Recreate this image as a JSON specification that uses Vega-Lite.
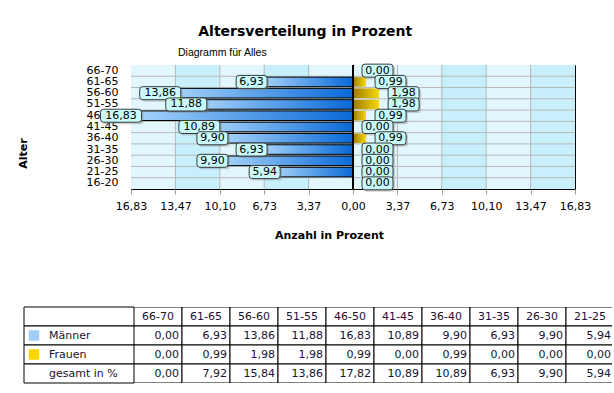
{
  "$schema": "https://vega.github.io/schema/vega-lite/v6.json",
  "padding": {"left": 16, "top": 25, "right": 3, "bottom": 4},
  "background": "white",
  "title": {"text": "Altersverteilung in Prozent", "font": "DejaVu Sans", "fontSize": 14, "fontWeight": "bold", "color": "black", "anchor": "middle", "dx": -9, "offset": 8},
  "datasets": {
    "ages": [
      {"age": "66-70", "maenner": 0.00, "frauen": 0.00, "gesamt": 0.00},
      {"age": "61-65", "maenner": 6.93, "frauen": 0.99, "gesamt": 7.92},
      {"age": "56-60", "maenner": 13.86, "frauen": 1.98, "gesamt": 15.84},
      {"age": "51-55", "maenner": 11.88, "frauen": 1.98, "gesamt": 13.86},
      {"age": "46-50", "maenner": 16.83, "frauen": 0.99, "gesamt": 17.82},
      {"age": "41-45", "maenner": 10.89, "frauen": 0.00, "gesamt": 10.89},
      {"age": "36-40", "maenner": 9.90, "frauen": 0.99, "gesamt": 10.89},
      {"age": "31-35", "maenner": 6.93, "frauen": 0.00, "gesamt": 6.93},
      {"age": "26-30", "maenner": 9.90, "frauen": 0.00, "gesamt": 9.90},
      {"age": "21-25", "maenner": 5.94, "frauen": 0.00, "gesamt": 5.94},
      {"age": "16-20", "maenner": 0.00, "frauen": 0.00, "gesamt": 0.00}
    ],
    "bands": [
      {"x0": -16.8317, "x1": -13.4653, "shade": "hell"},
      {"x0": -13.4653, "x1": -10.099, "shade": "dunkel"},
      {"x0": -10.099, "x1": -6.7327, "shade": "hell"},
      {"x0": -6.7327, "x1": -3.3663, "shade": "dunkel"},
      {"x0": -3.3663, "x1": 0, "shade": "hell"},
      {"x0": 0, "x1": 3.3663, "shade": "hell"},
      {"x0": 3.3663, "x1": 6.7327, "shade": "hell"},
      {"x0": 6.7327, "x1": 10.099, "shade": "dunkel"},
      {"x0": 10.099, "x1": 13.4653, "shade": "hell"},
      {"x0": 13.4653, "x1": 16.8317, "shade": "dunkel"}
    ],
    "zeilen": [
      {"key": "kopf", "label": ""},
      {"key": "maenner", "label": "Männer"},
      {"key": "frauen", "label": "Frauen"},
      {"key": "gesamt", "label": "gesamt in %"}
    ]
  },
  "spacing": 65,
  "vconcat": [
    {
      "bounds": "flush",
      "spacing": 0,
      "hconcat": [
        {
          "width": 107,
          "height": 124,
          "view": {"stroke": null},
          "data": {"values": []},
          "mark": "point",
          "encoding": {}
        },
        {
          "width": 444,
          "height": 124,
          "view": {"stroke": "black", "strokeWidth": 1},
          "title": {"text": "Diagramm für Alles", "anchor": "start", "frame": "group", "dx": 47, "font": "Liberation Sans", "fontSize": 10.5, "fontWeight": "normal", "color": "black", "offset": 4},
          "data": {"name": "ages"},
          "resolve": {"scale": {"x": "independent"}, "axis": {"x": "independent"}},
          "layer": [
            {
              "data": {"name": "bands"},
              "mark": {"type": "rect"},
              "encoding": {
                "x": {"field": "x0", "type": "quantitative",
                  "scale": {"domain": [-16.8317, 16.8317], "nice": false, "zero": false},
                  "axis": {
                    "values": [-16.8317, -13.4653, -10.099, -6.7327, -3.3663, 0, 3.3663, 6.7327, 10.099, 13.4653, 16.8317],
                    "labelExpr": "replace(format(abs(datum.value), '.2f'), '.', ',')",
                    "grid": false, "domain": false, "ticks": true, "tickSize": 5, "tickColor": "#9a9a9a",
                    "labelPadding": 6, "labelFontSize": 11, "labelColor": "black", "labelFont": "DejaVu Sans",
                    "labelFlush": false, "labelOverlap": false,
                    "title": "Anzahl in Prozent", "titleFont": "DejaVu Sans", "titleFontSize": 11, "titleFontWeight": "bold", "titleColor": "black",
                    "titleX": 198, "titleY": 46, "titleBaseline": "middle", "titleAlign": "center"
                  }},
                "x2": {"field": "x1"},
                "color": {"condition": {"test": "datum.shade == 'dunkel'", "value": "#c7f0fc"}, "value": "#e2f7fd"}
              }
            },
            {
              "data": {"name": "bands"},
              "transform": [{"filter": "datum.x0 > -16.8"}],
              "mark": {"type": "rule", "color": "#b6b6b6", "strokeWidth": 1},
              "encoding": {
                "x": {"field": "x0", "type": "quantitative", "scale": {"domain": [-16.8317, 16.8317], "nice": false, "zero": false}, "axis": null}
              }
            },
            {
              "transform": [{"filter": "datum.age != '66-70'"}],
              "mark": {"type": "rule", "color": "#b6b6b6", "strokeWidth": 1},
              "encoding": {
                "y": {"field": "age", "type": "nominal", "bandPosition": 0,
                  "scale": {"domain": ["66-70", "61-65", "56-60", "51-55", "46-50", "41-45", "36-40", "31-35", "26-30", "21-25", "16-20"], "paddingInner": 0, "paddingOuter": 0},
                  "axis": {"title": "Alter", "titleFont": "DejaVu Sans", "titleFontSize": 11, "titleFontWeight": "bold", "titleColor": "black",
                    "titleAngle": -90, "titleX": -114, "titleY": 88, "titleBaseline": "top", "titleAlign": "center",
                    "ticks": false, "domain": false, "grid": false, "labelPadding": 13, "labelFontSize": 11, "labelColor": "black", "labelFont": "DejaVu Sans"}}
              }
            },
            {
              "mark": {"type": "bar", "height": {"band": 0.85}, "stroke": "black", "strokeWidth": 1,
                "color": {"gradient": "linear", "x1": 0, "x2": 1, "y1": 0, "y2": 0, "stops": [{"offset": 0, "color": "#a9d5fb"}, {"offset": 1, "color": "#0a69d6"}]}},
              "encoding": {
                "x": {"field": "maenner", "type": "quantitative", "scale": {"domain": [-16.8317, 16.8317], "nice": false, "zero": false, "reverse": true}, "axis": null},
                "y": {"field": "age", "type": "nominal", "scale": {"domain": ["66-70", "61-65", "56-60", "51-55", "46-50", "41-45", "36-40", "31-35", "26-30", "21-25", "16-20"], "paddingInner": 0, "paddingOuter": 0}}
              }
            },
            {
              "mark": {"type": "bar", "height": {"band": 0.85},
                "color": {"gradient": "linear", "x1": 0, "x2": 1, "y1": 0, "y2": 0, "stops": [{"offset": 0, "color": "#9c7a00"}, {"offset": 1, "color": "#f7d90a"}]}},
              "encoding": {
                "x": {"field": "frauen", "type": "quantitative", "scale": {"domain": [-16.8317, 16.8317], "nice": false, "zero": false}, "axis": null},
                "y": {"field": "age", "type": "nominal", "scale": {"domain": ["66-70", "61-65", "56-60", "51-55", "46-50", "41-45", "36-40", "31-35", "26-30", "21-25", "16-20"], "paddingInner": 0, "paddingOuter": 0}}
              }
            },
            {
              "mark": {"type": "rule", "color": "black", "strokeWidth": 2},
              "encoding": {
                "x": {"datum": 0, "type": "quantitative", "scale": {"domain": [-16.8317, 16.8317], "nice": false, "zero": false}, "axis": null}
              }
            },
            {
              "transform": [{"filter": "datum.maenner > 0"}],
              "mark": {"type": "point", "filled": true, "size": 400, "fill": "#7a7a7a", "opacity": 0.35, "strokeWidth": 0},
              "encoding": {
                "x": {"field": "maenner", "type": "quantitative", "scale": {"domain": [-16.8317, 16.8317], "nice": false, "zero": false, "reverse": true}, "axis": null},
                "y": {"field": "age", "type": "nominal", "scale": {"domain": ["66-70", "61-65", "56-60", "51-55", "46-50", "41-45", "36-40", "31-35", "26-30", "21-25", "16-20"], "paddingInner": 0, "paddingOuter": 0}},
                "shape": {"condition": {"test": "datum.maenner >= 10", "value": "M -2.55 -0.45 L 0.95 -0.45 Q 1.25 -0.45 1.25 -0.15 L 1.25 0.55 Q 1.25 0.85 0.95 0.85 L -2.55 0.85 Q -2.85 0.85 -2.85 0.55 L -2.85 -0.15 Q -2.85 -0.45 -2.55 -0.45 Z"},
                  "value": "M -2.05 -0.45 L 0.45 -0.45 Q 0.75 -0.45 0.75 -0.15 L 0.75 0.55 Q 0.75 0.85 0.45 0.85 L -2.05 0.85 Q -2.35 0.85 -2.35 0.55 L -2.35 -0.15 Q -2.35 -0.45 -2.05 -0.45 Z"}
              }
            },
            {
              "mark": {"type": "point", "filled": true, "size": 400, "fill": "#7a7a7a", "opacity": 0.35, "strokeWidth": 0,
                "shape": "M 1.4 -0.45 L 3.9 -0.45 Q 4.2 -0.45 4.2 -0.15 L 4.2 0.55 Q 4.2 0.85 3.9 0.85 L 1.4 0.85 Q 1.1 0.85 1.1 0.55 L 1.1 -0.15 Q 1.1 -0.45 1.4 -0.45 Z"},
              "encoding": {
                "x": {"field": "frauen", "type": "quantitative", "scale": {"domain": [-16.8317, 16.8317], "nice": false, "zero": false}, "axis": null},
                "y": {"field": "age", "type": "nominal", "scale": {"domain": ["66-70", "61-65", "56-60", "51-55", "46-50", "41-45", "36-40", "31-35", "26-30", "21-25", "16-20"], "paddingInner": 0, "paddingOuter": 0}}
              }
            },
            {
              "transform": [{"filter": "datum.maenner > 0"}],
              "mark": {"type": "point", "filled": true, "size": 400, "fill": "#c8fcfc", "stroke": "#3a3a3a", "strokeWidth": 1, "opacity": 1},
              "encoding": {
                "x": {"field": "maenner", "type": "quantitative", "scale": {"domain": [-16.8317, 16.8317], "nice": false, "zero": false, "reverse": true}, "axis": null},
                "y": {"field": "age", "type": "nominal", "scale": {"domain": ["66-70", "61-65", "56-60", "51-55", "46-50", "41-45", "36-40", "31-35", "26-30", "21-25", "16-20"], "paddingInner": 0, "paddingOuter": 0}},
                "shape": {"condition": {"test": "datum.maenner >= 10", "value": "M -2.75 -0.65 L 0.75 -0.65 Q 1.05 -0.65 1.05 -0.35 L 1.05 0.35 Q 1.05 0.65 0.75 0.65 L -2.75 0.65 Q -3.05 0.65 -3.05 0.35 L -3.05 -0.35 Q -3.05 -0.65 -2.75 -0.65 Z"},
                  "value": "M -2.25 -0.65 L 0.25 -0.65 Q 0.55 -0.65 0.55 -0.35 L 0.55 0.35 Q 0.55 0.65 0.25 0.65 L -2.25 0.65 Q -2.55 0.65 -2.55 0.35 L -2.55 -0.35 Q -2.55 -0.65 -2.25 -0.65 Z"}
              }
            },
            {
              "mark": {"type": "point", "filled": true, "size": 400, "fill": "#c8fcfc", "stroke": "#3a3a3a", "strokeWidth": 1, "opacity": 1,
                "shape": "M 1.2 -0.65 L 3.7 -0.65 Q 4.0 -0.65 4.0 -0.35 L 4.0 0.35 Q 4.0 0.65 3.7 0.65 L 1.2 0.65 Q 0.9 0.65 0.9 0.35 L 0.9 -0.35 Q 0.9 -0.65 1.2 -0.65 Z"},
              "encoding": {
                "x": {"field": "frauen", "type": "quantitative", "scale": {"domain": [-16.8317, 16.8317], "nice": false, "zero": false}, "axis": null},
                "y": {"field": "age", "type": "nominal", "scale": {"domain": ["66-70", "61-65", "56-60", "51-55", "46-50", "41-45", "36-40", "31-35", "26-30", "21-25", "16-20"], "paddingInner": 0, "paddingOuter": 0}}
              }
            },
            {
              "transform": [{"filter": "datum.maenner > 0"}],
              "mark": {"type": "text", "dx": -10, "align": "center", "baseline": "middle", "fontSize": 11, "font": "DejaVu Sans", "color": "black"},
              "encoding": {
                "x": {"field": "maenner", "type": "quantitative", "scale": {"domain": [-16.8317, 16.8317], "nice": false, "zero": false, "reverse": true}, "axis": null},
                "y": {"field": "age", "type": "nominal", "scale": {"domain": ["66-70", "61-65", "56-60", "51-55", "46-50", "41-45", "36-40", "31-35", "26-30", "21-25", "16-20"], "paddingInner": 0, "paddingOuter": 0}},
                "text": {"field": "maenner", "type": "quantitative", "format": ".2f"}
              }
            },
            {
              "mark": {"type": "text", "dx": 24.5, "align": "center", "baseline": "middle", "fontSize": 11, "font": "DejaVu Sans", "color": "black"},
              "encoding": {
                "x": {"field": "frauen", "type": "quantitative", "scale": {"domain": [-16.8317, 16.8317], "nice": false, "zero": false}, "axis": null},
                "y": {"field": "age", "type": "nominal", "scale": {"domain": ["66-70", "61-65", "56-60", "51-55", "46-50", "41-45", "36-40", "31-35", "26-30", "21-25", "16-20"], "paddingInner": 0, "paddingOuter": 0}},
                "text": {"field": "frauen", "type": "quantitative", "format": ".2f"}
              }
            }
          ]
        }
      ]
    },
    {
      "bounds": "flush",
      "spacing": 0,
      "hconcat": [
        {
          "width": 110,
          "height": 76,
          "view": {"stroke": null},
          "data": {"name": "zeilen"},
          "layer": [
            {
              "mark": {"type": "rect", "fill": "white", "stroke": "black", "strokeWidth": 1},
              "encoding": {
                "y": {"field": "key", "type": "nominal", "scale": {"domain": ["kopf", "maenner", "frauen", "gesamt"], "paddingInner": 0, "paddingOuter": 0}, "axis": null}
              }
            },
            {
              "transform": [{"filter": "datum.key == 'maenner' || datum.key == 'frauen'"}],
              "mark": {"type": "point", "shape": "square", "filled": true, "size": 110, "opacity": 1},
              "encoding": {
                "x": {"value": 10},
                "y": {"field": "key", "type": "nominal", "scale": {"domain": ["kopf", "maenner", "frauen", "gesamt"], "paddingInner": 0, "paddingOuter": 0}, "axis": null},
                "color": {"condition": {"test": "datum.key == 'maenner'", "value": "#a0cdf8"}, "value": "#ffd500"}
              }
            },
            {
              "mark": {"type": "text", "align": "left", "baseline": "middle", "dx": 25, "fontSize": 11, "font": "DejaVu Sans", "color": "#1a1030"},
              "encoding": {
                "x": {"value": 0},
                "y": {"field": "key", "type": "nominal", "scale": {"domain": ["kopf", "maenner", "frauen", "gesamt"], "paddingInner": 0, "paddingOuter": 0}, "axis": null},
                "text": {"field": "label"}
              }
            }
          ]
        },
        {
          "width": 478,
          "height": 76,
          "view": {"stroke": null},
          "data": {"name": "ages"},
          "layer": [
            {
              "mark": {"type": "rect", "fill": "white", "stroke": "black", "strokeWidth": 1, "clip": true},
              "encoding": {
                "x": {"field": "age", "type": "nominal", "scale": {"domain": ["66-70", "61-65", "56-60", "51-55", "46-50", "41-45", "36-40", "31-35", "26-30", "21-25", "16-20"], "range": [0, 528], "paddingInner": 0, "paddingOuter": 0}, "axis": null},
                "y": {"datum": "kopf", "type": "nominal", "scale": {"domain": ["kopf", "maenner", "frauen", "gesamt"], "paddingInner": 0, "paddingOuter": 0}, "axis": null}
              }
            },
            {
              "transform": [{"fold": ["maenner", "frauen", "gesamt"], "as": ["key", "value"]}],
              "mark": {"type": "rect", "fill": "white", "stroke": "black", "strokeWidth": 1, "clip": true},
              "encoding": {
                "x": {"field": "age", "type": "nominal", "scale": {"domain": ["66-70", "61-65", "56-60", "51-55", "46-50", "41-45", "36-40", "31-35", "26-30", "21-25", "16-20"], "range": [0, 528], "paddingInner": 0, "paddingOuter": 0}, "axis": null},
                "y": {"field": "key", "type": "nominal", "scale": {"domain": ["kopf", "maenner", "frauen", "gesamt"], "paddingInner": 0, "paddingOuter": 0}, "axis": null}
              }
            },
            {
              "mark": {"type": "text", "align": "center", "baseline": "middle", "fontSize": 11, "font": "DejaVu Sans", "color": "#1a1030", "clip": true},
              "encoding": {
                "x": {"field": "age", "type": "nominal", "scale": {"domain": ["66-70", "61-65", "56-60", "51-55", "46-50", "41-45", "36-40", "31-35", "26-30", "21-25", "16-20"], "range": [0, 528], "paddingInner": 0, "paddingOuter": 0}, "axis": null},
                "y": {"datum": "kopf", "type": "nominal", "scale": {"domain": ["kopf", "maenner", "frauen", "gesamt"], "paddingInner": 0, "paddingOuter": 0}, "axis": null},
                "text": {"field": "age"}
              }
            },
            {
              "transform": [{"fold": ["maenner", "frauen", "gesamt"], "as": ["key", "value"]}],
              "mark": {"type": "text", "align": "right", "baseline": "middle", "dx": -3, "fontSize": 11, "font": "DejaVu Sans", "color": "#1a1030", "clip": true},
              "encoding": {
                "x": {"field": "age", "type": "nominal", "bandPosition": 1, "scale": {"domain": ["66-70", "61-65", "56-60", "51-55", "46-50", "41-45", "36-40", "31-35", "26-30", "21-25", "16-20"], "range": [0, 528], "paddingInner": 0, "paddingOuter": 0}, "axis": null},
                "y": {"field": "key", "type": "nominal", "scale": {"domain": ["kopf", "maenner", "frauen", "gesamt"], "paddingInner": 0, "paddingOuter": 0}, "axis": null},
                "text": {"field": "value", "type": "quantitative", "format": ".2f"}
              }
            }
          ]
        }
      ]
    }
  ],
  "config": {
    "font": "DejaVu Sans",
    "locale": {"number": {"decimal": ",", "thousands": ".", "grouping": [3], "currency": ["", " €"]}}
  }
}
